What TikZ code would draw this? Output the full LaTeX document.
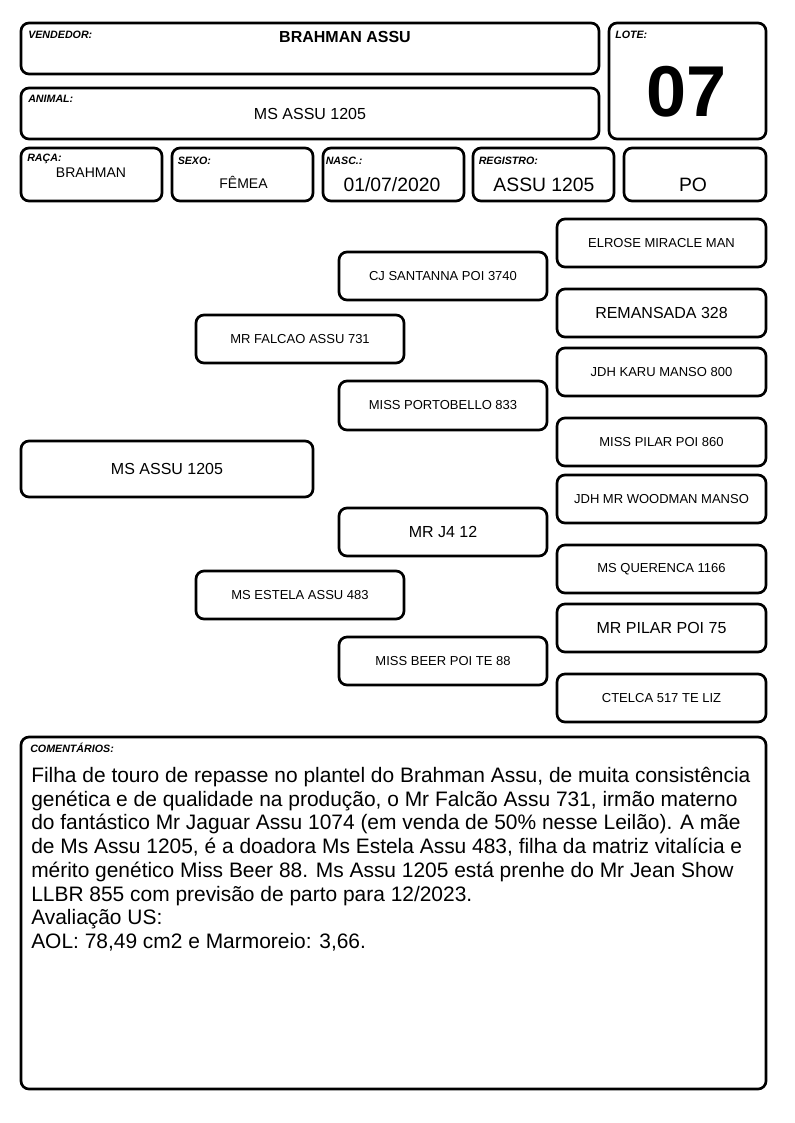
\documentclass[tikz,border=0pt]{standalone}
\usepackage{fontspec}
\setmainfont{Liberation Sans}
\newcommand\comfont{\fontsize{15.7}{17.8}\selectfont\setlength\lineskiplimit{-20pt}\setlength\lineskip{0pt}}
\begin{document}
\begin{tikzpicture}[x=0.75pt,y=-0.75pt,
  box/.style={draw=black, line width=2pt, rounded corners=6pt, inner sep=0pt, align=center},
  lbl/.style={anchor=base west, inner sep=0pt, font=\fontsize{8}{9}\selectfont\bfseries\itshape},
  val/.style={anchor=base, inner sep=0pt},
  small/.style={font=\fontsize{9.75}{11}\selectfont},
  big/.style={font=\fontsize{12}{14}\selectfont}]
\useasboundingbox (0,0) rectangle (794,1123);
\newcommand\pbox[7][]{\node[box,#1,minimum width={(#4-#2)*0.75pt},minimum height={(#5-#3)*0.75pt}] (#6) at ({(#2+#4)/2},{(#3+#5)/2}) {#7};}
% header
\pbox{21}{23}{599}{74}{vend}{}
\pbox{609}{23}{766}{139}{lote}{}
\pbox{21}{88}{599}{139}{anim}{}
\pbox{21}{148}{162}{201}{raca}{}
\pbox{172}{148}{313}{201}{sexo}{}
\pbox{323}{148}{464}{201}{nasc}{}
\pbox{473}{148}{614}{201}{reg}{}
\pbox{624}{148}{766}{201}{po}{}
\node[lbl] (lvend) at (28,39) {VENDEDOR:};
\node[val,font=\fontsize{12}{14}\selectfont\bfseries] (tvend) at (345,43) {BRAHMAN ASSU};
\node[lbl] (llote) at (615,39) {LOTE:};
\node[val,font=\fontsize{54}{60}\selectfont\bfseries] (tlote) at (687,117) {07};
\node[lbl] (lanim) at (28,103) {ANIMAL:};
\node[val,big] (tanim) at (310,120) {MS ASSU 1205};
\node[lbl] (lraca) at (27,162) {RAÇA:};
\node[val,font=\fontsize{10.5}{12}\selectfont] (traca) at (91,178) {BRAHMAN};
\node[lbl] (lsexo) at (177.5,165) {SEXO:};
\node[val,font=\fontsize{10.5}{12}\selectfont] (tsexo) at (243.5,189) {FÊMEA};
\node[lbl] (lnasc) at (325.5,165) {NASC.:};
\node[val,font=\fontsize{14.5}{16}\selectfont] (tnasc) at (392,192) {01/07/2020};
\node[lbl] (lreg) at (478.5,164.5) {REGISTRO:};
\node[val,font=\fontsize{14.5}{16}\selectfont] (treg) at (544,192) {ASSU 1205};
\node[val,font=\fontsize{14.5}{16}\selectfont] (tpo) at (693,192) {PO};
% pedigree
\pbox[big]{21}{441}{313}{497}{a}{MS ASSU 1205}
\pbox[small]{196}{315}{404}{363}{s}{MR FALCAO ASSU 731}
\pbox[small]{196}{571}{404}{619}{d}{MS ESTELA ASSU 483}
\pbox[small]{339}{252}{547}{300}{ss}{CJ SANTANNA POI 3740}
\pbox[small]{339}{381}{547}{430}{sd}{MISS PORTOBELLO 833}
\pbox[big]{339}{508}{547}{556}{ds}{MR J4 12}
\pbox[small]{339}{637}{547}{685}{dd}{MISS BEER POI TE 88}
\pbox[small]{557}{219}{766}{267}{sss}{ELROSE MIRACLE MAN}
\pbox[big]{557}{289}{766}{337}{ssd}{REMANSADA 328}
\pbox[small]{557}{348}{766}{396}{sds}{JDH KARU MANSO 800}
\pbox[small]{557}{418}{766}{466}{sdd}{MISS PILAR POI 860}
\pbox[small]{557}{475}{766}{523}{dss}{JDH MR WOODMAN MANSO}
\pbox[small]{557}{545}{766}{593}{dsd}{MS QUERENCA 1166}
\pbox[big]{557}{604}{766}{652}{dds}{MR PILAR POI 75}
\pbox[small]{557}{674}{766}{722}{ddd}{CTELCA 517 TE LIZ}
% comments
\pbox{21}{737}{766}{1089}{com}{}
\node[lbl] (lcom) at (30,752) {COMENTÁRIOS:};
\node[anchor=north west, inner sep=0pt, align=left, font=\comfont] (tcom) at (31,767) {Filha de touro de repasse no plantel do Brahman Assu, de muita consistência\\genética e de qualidade na produção, o Mr Falcão Assu 731, irmão materno\\do fantástico Mr Jaguar Assu 1074 (em venda de 50\% nesse Leilão). A mãe\\de Ms Assu 1205, é a doadora Ms Estela Assu 483, filha da matriz vitalícia e\\mérito genético Miss Beer 88. Ms Assu 1205 está prenhe do Mr Jean Show\\LLBR 855 com previsão de parto para 12/2023.\\Avaliação US:\\AOL: 78,49 cm2 e Marmoreio: 3,66.};
\end{tikzpicture}
\end{document}
